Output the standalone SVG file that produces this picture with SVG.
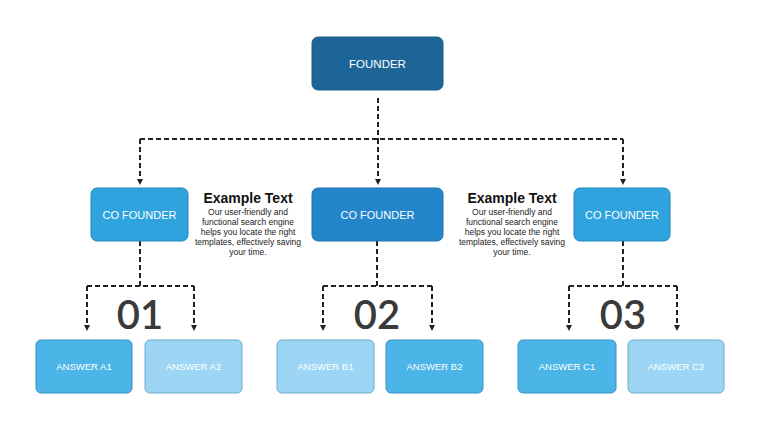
<svg xmlns="http://www.w3.org/2000/svg" width="760" height="428" viewBox="0 0 760 428">
<style>
.box{stroke-width:1}
.lbl{font-family:"Liberation Sans",Arial,sans-serif;fill:#fff;text-anchor:middle}
.conn{fill:none;stroke:#222;stroke-width:2;stroke-dasharray:5 3}
.num{font-family:Lato,"Open Sans",sans-serif;font-size:40px;font-weight:600;fill:#3a3a3a;text-anchor:middle}
.h{font-family:"Liberation Sans",Arial,sans-serif;font-weight:bold;font-size:14px;fill:#111;text-anchor:middle}
.b{font-family:"Liberation Sans",Arial,sans-serif;font-size:8.5px;fill:#222;text-anchor:middle}
</style>
<defs>
<marker id="ah" viewBox="0 0 6 6" refX="3" refY="3" markerWidth="3" markerHeight="3" orient="auto">
<path d="M0,0 L6,3 L0,6 z" fill="#222"/>
</marker>
</defs>
<rect width="760" height="428" fill="#fff"/>
<g id="connectors">
<path class="conn" d="M378,98 V139"/>
<path class="conn" d="M140,139 H623"/>
<path class="conn" d="M140,139 V182" marker-end="url(#ah)"/>
<path class="conn" d="M378,139 V182" marker-end="url(#ah)"/>
<path class="conn" d="M623,139 V182" marker-end="url(#ah)"/>
<path class="conn" d="M140,241 V286"/>
<path class="conn" d="M87,286 H194"/>
<path class="conn" d="M87,286 V328" marker-end="url(#ah)"/>
<path class="conn" d="M194,286 V328" marker-end="url(#ah)"/>
<path class="conn" d="M377,241 V286"/>
<path class="conn" d="M323,286 H432"/>
<path class="conn" d="M323,286 V328" marker-end="url(#ah)"/>
<path class="conn" d="M432,286 V328" marker-end="url(#ah)"/>
<path class="conn" d="M623,241 V286"/>
<path class="conn" d="M569,286 H677"/>
<path class="conn" d="M569,286 V328" marker-end="url(#ah)"/>
<path class="conn" d="M677,286 V328" marker-end="url(#ah)"/>
</g>
<g id="founder">
<rect x="312" y="37" width="131" height="53" rx="6" fill="#1e6597" stroke="#1a5a87"/>
<text class="lbl" x="377.5" y="68" font-size="11.5">FOUNDER</text>
</g>
<g id="cofounder-left">
<rect x="91" y="188" width="97" height="53" rx="6" fill="#2ea3de" stroke="#2685bb"/>
<text class="lbl" x="139.5" y="218.5" font-size="11">CO FOUNDER</text>
</g>
<g id="cofounder-center">
<rect x="312" y="188" width="131" height="53" rx="6" fill="#2386ca" stroke="#1e72ad"/>
<text class="lbl" x="377.5" y="218.5" font-size="11">CO FOUNDER</text>
</g>
<g id="cofounder-right">
<rect x="574" y="188" width="96" height="53" rx="6" fill="#2ea3de" stroke="#2685bb"/>
<text class="lbl" x="622" y="218.5" font-size="11">CO FOUNDER</text>
</g>
<g id="text-left">
<text class="h" x="248" y="203">Example Text</text>
<text class="b" x="248" y="215">Our user-friendly and</text>
<text class="b" x="248" y="225">functional search engine</text>
<text class="b" x="248" y="235">helps you locate the right</text>
<text class="b" x="248" y="245">templates, effectively saving</text>
<text class="b" x="248" y="255">your time.</text>
</g>
<g id="text-right">
<text class="h" x="512" y="203">Example Text</text>
<text class="b" x="512" y="215">Our user-friendly and</text>
<text class="b" x="512" y="225">functional search engine</text>
<text class="b" x="512" y="235">helps you locate the right</text>
<text class="b" x="512" y="245">templates, effectively saving</text>
<text class="b" x="512" y="255">your time.</text>
</g>
<g id="num-01"><text class="num" x="140" y="329">01</text></g>
<g id="num-02"><text class="num" x="377" y="329">02</text></g>
<g id="num-03"><text class="num" x="623" y="329">03</text></g>
<g id="answer-a1">
<rect x="36" y="340" width="96" height="53" rx="5" fill="#4cb5e8" stroke="#3a94c4"/>
<text class="lbl" x="84" y="370" font-size="9.5">ANSWER A1</text>
</g>
<g id="answer-a2">
<rect x="145" y="340" width="97" height="53" rx="5" fill="#9dd6f4" stroke="#6fa9cc"/>
<text class="lbl" x="193.5" y="370" font-size="9.5">ANSWER A2</text>
</g>
<g id="answer-b1">
<rect x="277" y="340" width="97" height="53" rx="5" fill="#9dd6f4" stroke="#6fa9cc"/>
<text class="lbl" x="325.5" y="370" font-size="9.5">ANSWER B1</text>
</g>
<g id="answer-b2">
<rect x="386" y="340" width="97" height="53" rx="5" fill="#4cb5e8" stroke="#3a94c4"/>
<text class="lbl" x="434.5" y="370" font-size="9.5">ANSWER B2</text>
</g>
<g id="answer-c1">
<rect x="518" y="340" width="98" height="53" rx="5" fill="#4cb5e8" stroke="#3a94c4"/>
<text class="lbl" x="567" y="370" font-size="9.5">ANSWER C1</text>
</g>
<g id="answer-c2">
<rect x="628" y="340" width="96" height="53" rx="5" fill="#9dd6f4" stroke="#6fa9cc"/>
<text class="lbl" x="676" y="370" font-size="9.5">ANSWER C2</text>
</g>
</svg>
